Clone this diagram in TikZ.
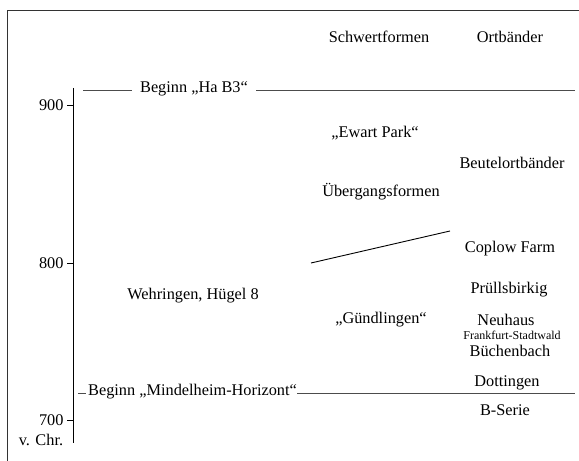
\documentclass[tikz,border=0pt]{standalone}
\usepackage{fontspec}
\setmainfont{Liberation Serif}
\begin{document}
\begin{tikzpicture}[x=1pt,y=1pt,
  lbl/.style={inner sep=0pt,font=\fontsize{16.3}{19}\selectfont},
  small/.style={inner sep=0pt,font=\fontsize{12}{14}\selectfont},
  rule/.style={draw=black!70,line width=0.6pt},
  axisline/.style={draw=black,line width=0.9pt}]
\useasboundingbox (0,0) rectangle (579,461);
% frame
\draw[black!80,line width=0.8pt] (7,0) -- (7,451) -- (579,451);
% axis
\coordinate (atop) at (73,373);
\coordinate (abot) at (73,18);
\draw[axisline] (atop) -- (abot);
\coordinate (t900) at (73,356);
\coordinate (t800) at (73,198);
\coordinate (t700) at (73,41);
\draw[axisline] (t900) -- ++(-6,0) node[lbl,anchor=east,xshift=-3pt] (l900) {900};
\draw[axisline] (t800) -- ++(-6,0) node[lbl,anchor=east,xshift=-3pt] (l800) {800};
\draw[axisline] (t700) -- ++(-6,0) node[lbl,anchor=east,xshift=-3pt] (l700) {700};
\node[lbl] (vchr) at (41,21) {v. Chr.};
% headers
\node[lbl] (schw) at (379,424) {Schwertformen};
\node[lbl] (ort) at (510,424) {Ortbänder};
% Ha B3 line
\node[lbl] (hab3) at (194,372) {Beginn „Ha B3“};
\coordinate (hab3l) at (83,371);
\coordinate (hab3r) at (575,371);
\draw[rule] (hab3l) -- ([xshift=-8pt]hab3.west |- hab3l);
\draw[rule] ([xshift=8pt]hab3.east |- hab3r) -- (hab3r);
% Mindelheim line
\node[lbl,anchor=west] (mind) at (88,69) {Beginn „Mindelheim-Horizont“};
\coordinate (mindl) at (78,68);
\coordinate (mindr) at (575,68);
\draw[rule] (mindl) -- ([xshift=-2pt]mind.west |- mindl);
\draw[rule] (mind.east |- mindr) -- (mindr);
% Schwertformen column
\node[lbl] (ewart) at (375,328) {„Ewart Park“};
\node[lbl] (ueber) at (381,269) {Übergangsformen};
\coordinate (sl1) at (311,198);
\coordinate (sl2) at (450,230);
\draw[black,line width=0.9pt] (sl1) -- (sl2);
\node[lbl] (guend) at (381,141) {„Gündlingen“};
\node[lbl] (wehr) at (193,165) {Wehringen, Hügel 8};
% Ortbaender column
\node[lbl] (beutel) at (512,298) {Beutelortbänder};
\node[lbl] (coplow) at (510,212) {Coplow Farm};
\node[lbl] (pruell) at (509,171) {Prüllsbirkig};
\node[lbl] (neuh) at (506,141) {Neuhaus};
\node[small] (frank) at (512,126) {Frankfurt-Stadtwald};
\node[lbl] (buech) at (510,110) {Büchenbach};
\node[lbl] (dott) at (507,78) {Dottingen};
\node[lbl] (bser) at (505,51) {B-Serie};
\end{tikzpicture}
\end{document}
